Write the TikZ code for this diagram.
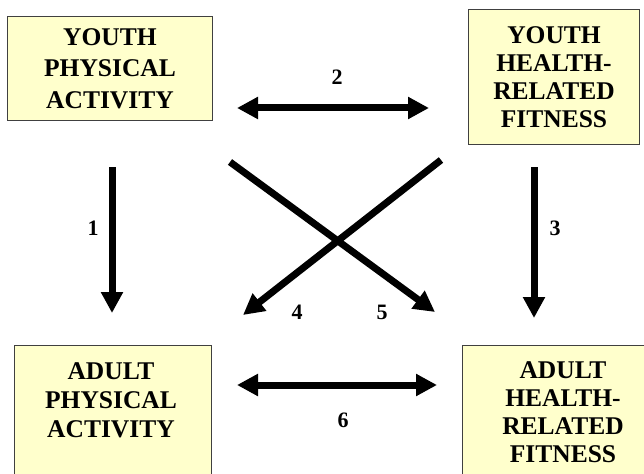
\documentclass[tikz,border=0pt]{standalone}
\usepackage{fontspec}
\setmainfont{Liberation Serif}
\usetikzlibrary{arrows.meta}
\definecolor{boxfill}{HTML}{FFFFCC}
\definecolor{boxline}{HTML}{404040}
\tikzset{
  box/.style={draw=boxline, line width=1.1pt, fill=boxfill, rectangle, inner sep=0pt, anchor=north west},
  boxtext/.style={align=center, inner sep=0pt, font=\fontsize{25.5}{#1}\selectfont\bfseries},
  num/.style={inner sep=0pt, font=\fontsize{22}{26}\selectfont\bfseries},
  bigarrow/.style={line width=7pt, -{Triangle[length=21pt,width=21pt]}},
  dblarrow/.style={line width=7pt, {Triangle[length=21pt,width=21pt]}-{Triangle[length=21pt,width=21pt]}}
}
\begin{document}
\begin{tikzpicture}[x=1pt,y=-1pt]
\clip (0,0) rectangle (644,473);
\fill[white] (0,0) rectangle (644,473);
% boxes
\node[box, minimum width=205pt, minimum height=104pt] (tl) at (7,16) {};
\node[box, minimum width=171pt, minimum height=135pt] (tr) at (468,9) {};
\node[box, minimum width=197pt, minimum height=160pt] (bl) at (14,345) {};
\node[box, minimum width=200pt, minimum height=160pt] (br) at (462,345) {};
% texts
\node[boxtext=31.5pt] (tlt) at (110,68.5) {YOUTH\\PHYSICAL\\ACTIVITY};
\node[boxtext=28pt] (trt) at (554,77.5) {YOUTH\\HEALTH-\\RELATED\\FITNESS};
\node[boxtext=29pt] (blt) at (111,400) {ADULT\\PHYSICAL\\ACTIVITY};
\node[boxtext=28pt] (brt) at (563,412.5) {ADULT\\HEALTH-\\RELATED\\FITNESS};
% arrow end points
\coordinate (a1s) at (112,167);
\coordinate (a1e) at (112,313);
\coordinate (a3s) at (534,167);
\coordinate (a3e) at (534,318);
\coordinate (a2s) at (237,108);
\coordinate (a2e) at (429,108);
\coordinate (a6s) at (237,385);
\coordinate (a6e) at (437,385);
\coordinate (a5s) at (230,162);
\coordinate (a5e) at (435,312);
\coordinate (a4s) at (441,160);
\coordinate (a4e) at (243,315);
% arrows
\draw[bigarrow] (a1s) -- (a1e);
\draw[bigarrow] (a3s) -- (a3e);
\draw[dblarrow] (a2s) -- (a2e);
\draw[dblarrow] (a6s) -- (a6e);
\draw[bigarrow] (a5s) -- (a5e);
\draw[bigarrow] (a4s) -- (a4e);
% labels
\node[num] (n1) at (93,228) {1};
\node[num] (n2) at (337,77.5) {2};
\node[num] (n3) at (555,228) {3};
\node[num] (n4) at (297,312) {4};
\node[num] (n5) at (382,312) {5};
\node[num] (n6) at (343,420) {6};
\end{tikzpicture}
\end{document}
